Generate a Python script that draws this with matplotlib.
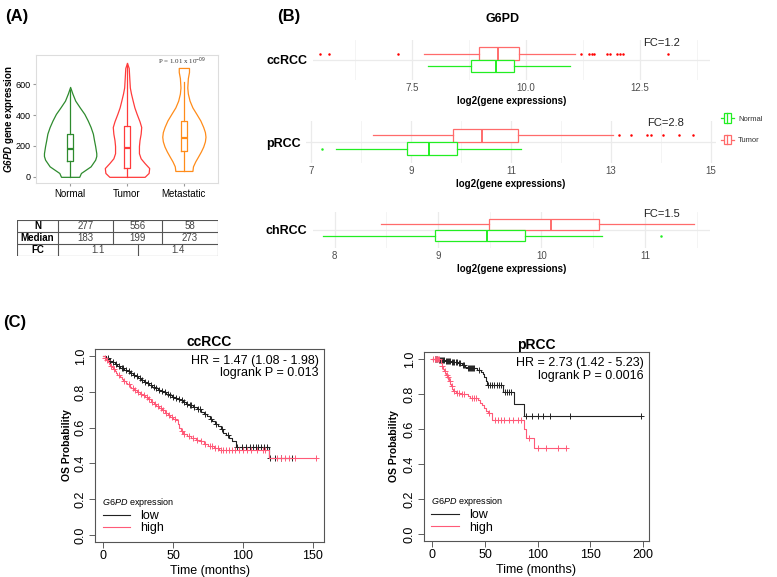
import numpy as np
import matplotlib
matplotlib.use('Agg')
import matplotlib.pyplot as plt
from matplotlib.legend_handler import HandlerBase
from matplotlib.patches import Rectangle, Patch
from matplotlib.lines import Line2D

plt.rcParams['font.family'] = ['Liberation Sans', 'DejaVu Sans']
plt.rcParams['mathtext.fontset'] = 'custom'
plt.rcParams['mathtext.rm'] = 'Liberation Sans'
plt.rcParams['mathtext.it'] = 'Liberation Sans:italic'
plt.rcParams['mathtext.bf'] = 'Liberation Sans:bold'
plt.rcParams['mathtext.bfit'] = 'Liberation Sans:italic:bold'

# ---------------- (A) violin data ----------------
groups = ['Normal', 'Tumor', 'Metastatic']
group_colors = ['#2E8B2E', '#FF3B3B', '#FF8C1A']

normal_prof_y = [0, 25, 68, 111, 135, 153, 200, 238, 280, 323, 365, 408, 450, 494, 540, 583]
normal_prof_w = [0.16, 0.19, 0.36, 0.44, 0.46, 0.46, 0.44, 0.42, 0.40, 0.36, 0.31, 0.25, 0.17, 0.09, 0.04, 0.0]
tumor_prof_y = [0, 25, 57, 89, 120, 153, 200, 238, 280, 323, 360, 408, 450, 494, 540, 579, 640, 706, 738]
tumor_prof_w = [0.31, 0.38, 0.39, 0.31, 0.24, 0.21, 0.21, 0.22, 0.24, 0.25, 0.22, 0.17, 0.13, 0.10, 0.07, 0.05, 0.04, 0.03, 0.0]
meta_prof_y = [38, 68, 100, 132, 165, 196, 230, 260, 290, 323, 365, 408, 450, 494, 540, 579, 640, 680, 706]
meta_prof_w = [0.15, 0.16, 0.20, 0.25, 0.30, 0.34, 0.37, 0.38, 0.37, 0.34, 0.29, 0.22, 0.15, 0.10, 0.07, 0.06, 0.07, 0.09, 0.09]

# box stats: whislo, q1, med, q3, whishi
normal_box = [0, 100, 183, 280, 560]
tumor_box = [0, 60, 190, 330, 735]
meta_box = [40, 165, 255, 360, 615]

tab_n = [277, 556, 58]
tab_median = [183, 199, 273]
tab_fc = [1.1, 1.4]

# ---------------- (B) boxplot data ----------------
# [whislo, q1, med, q3, whishi], fliers
cc_tumor = [7.75, 8.96, 9.38, 9.84, 11.08]
cc_tumor_out = [5.48, 5.68, 7.19, 11.2, 11.39, 11.45, 11.5, 11.78, 11.85, 12.0, 12.07, 12.12, 13.11]
cc_normal = [7.84, 8.78, 9.33, 9.73, 10.97]
cc_normal_out = []
p_tumor = [8.24, 9.83, 10.41, 11.14, 13.04]
p_tumor_out = [13.15, 13.39, 13.72, 13.8, 14.04, 14.35, 14.64]
p_normal = [7.5, 8.92, 9.37, 9.92, 11.2]
p_normal_out = [7.22]
ch_tumor = [8.45, 9.49, 10.09, 10.56, 11.48]
ch_tumor_out = []
ch_normal = [7.89, 8.97, 9.47, 9.84, 10.59]
ch_normal_out = [11.16]

# ---------------- (C) Kaplan-Meier data ----------------
cc_low_t = [2, 4, 6, 8, 10, 12, 15, 17, 19, 21, 23, 25, 27, 29, 31, 33, 35, 37, 39, 41, 43, 45, 47, 49,
            51, 53, 55, 57, 59, 61, 64, 67, 70, 72, 74, 76, 78, 80, 82, 84, 86, 88, 90, 92, 95, 118.5]
cc_low_s = [0.99, 0.975, 0.965, 0.955, 0.945, 0.935, 0.925, 0.915, 0.905, 0.895, 0.887, 0.878, 0.866,
            0.857, 0.848, 0.838, 0.829, 0.820, 0.812, 0.803, 0.797, 0.789, 0.781, 0.773, 0.766, 0.760,
            0.752, 0.742, 0.733, 0.724, 0.714, 0.705, 0.690, 0.676, 0.663, 0.650, 0.638, 0.620, 0.607,
            0.590, 0.570, 0.556, 0.540, 0.524, 0.490, 0.429]
cc_low_cens = [3, 5, 7, 9, 11, 13, 14, 16, 18, 20, 22, 24, 26, 28, 30, 32, 34, 36, 38, 40, 42, 44, 46,
               48, 50, 52, 54, 56, 58, 60, 62, 63, 65, 68, 69, 73, 77, 81, 85, 89, 96, 99, 102, 105,
               107, 109, 111, 113, 115, 117, 119, 123, 127, 135]
cc_high_t = [1, 2, 3, 4, 5, 6, 7, 8, 9, 10, 12, 13, 14, 16, 17, 19, 20, 22, 24, 26, 28, 30, 32, 34, 36,
             38, 40, 42, 44, 46, 48, 50, 52, 53.5, 54.5, 55.5, 57, 60, 63, 66, 69, 72, 75, 79, 83, 118.5]
cc_high_s = [0.99, 0.98, 0.968, 0.957, 0.947, 0.937, 0.926, 0.915, 0.905, 0.895, 0.885, 0.874, 0.862,
             0.852, 0.842, 0.830, 0.820, 0.808, 0.798, 0.790, 0.781, 0.770, 0.758, 0.746, 0.733, 0.722,
             0.711, 0.697, 0.684, 0.670, 0.660, 0.650, 0.640, 0.620, 0.600, 0.580, 0.562, 0.553, 0.543,
             0.533, 0.524, 0.510, 0.498, 0.487, 0.476, 0.429]
cc_high_cens = [1.5, 2.5, 5.5, 7.5, 11, 15, 18, 21, 23, 25, 27, 29, 31, 33, 35, 37, 39, 41, 43, 45, 47,
                49, 51, 56, 58, 61, 64, 67, 70, 73, 76, 78, 80, 82, 84, 86, 88, 90, 92, 94, 97, 100,
                103, 106, 110, 114, 116, 124, 127, 130, 133, 137, 152]
p_low_t = [5, 12, 18, 24, 28, 31, 33, 42, 46, 48, 49.5, 50.5, 52, 67, 78, 87]
p_low_s = [0.996, 0.990, 0.983, 0.975, 0.967, 0.957, 0.948, 0.938, 0.928, 0.913, 0.895, 0.875, 0.852,
           0.813, 0.742, 0.672]
p_low_cens = [2, 3, 4, 6, 7, 8, 9, 10, 11, 13, 14, 15, 16, 17, 19, 20, 21, 22, 23, 25, 26, 29, 30, 34,
              35, 36, 37, 38, 39, 40, 44, 53, 55, 57, 59, 61, 63, 65, 69, 71, 73, 75, 89, 95, 100,
              105, 112, 131, 198]
p_high_t = [8, 9, 10, 11, 12, 13, 14, 15, 16, 17, 18, 19, 20, 22, 26, 34, 36, 43, 45, 47, 49, 51, 53,
            57, 87.5, 89, 97]
p_high_s = [0.975, 0.96, 0.945, 0.93, 0.92, 0.91, 0.90, 0.89, 0.875, 0.86, 0.845, 0.83, 0.815, 0.807,
            0.80, 0.788, 0.775, 0.765, 0.75, 0.735, 0.72, 0.705, 0.69, 0.653, 0.601, 0.549, 0.489]
p_high_cens = [1, 2, 3, 4, 5, 6, 9.5, 11.5, 13.5, 14.5, 16.5, 18.5, 21, 23, 25, 28, 30, 38, 40, 41, 54,
               60, 62, 65, 68, 73, 77, 81, 84, 92, 100, 108, 119, 127]

W, H = 777, 577
fig = plt.figure(figsize=(W / 100, H / 100), dpi=100)


def add_ax(x0, y0, x1, y1):
    # pixel box -> figure fraction
    return fig.add_axes([x0 / W, 1 - y1 / H, (x1 - x0) / W, (y1 - y0) / H])


def stats(b, fl=()):
    return dict(whislo=b[0], q1=b[1], med=b[2], q3=b[3], whishi=b[4], fliers=list(fl))


fig.text(5 / W, 1 - 17 / H, '(A)', fontsize=12, fontweight='bold', va='center')
fig.text(277 / W, 1 - 17 / H, '(B)', fontsize=12, fontweight='bold', va='center')
fig.text(3 / W, 1 - 323 / H, '(C)', fontsize=12, fontweight='bold', va='center')

# ====================== (A) violins ======================
ax = add_ax(36, 55, 218, 183)
profiles = [(normal_prof_y, normal_prof_w, normal_box),
            (tumor_prof_y, tumor_prof_w, tumor_box),
            (meta_prof_y, meta_prof_w, meta_box)]
for i, (vy, vw, bx) in enumerate(profiles):
    pos = i + 1
    col = group_colors[i]
    vw = np.array(vw)
    ax.fill_betweenx(vy, pos - vw, pos + vw, facecolor='white', edgecolor=col, lw=0.9)
    ax.bxp([stats(bx)], positions=[pos], widths=0.1, showfliers=False, showcaps=False,
           manage_ticks=False,
           boxprops=dict(color=col, lw=0.9), whiskerprops=dict(color=col, lw=0.9),
           medianprops=dict(color=col, lw=1.6))
ax.set_xlim(0.4, 3.6)
ax.set_ylim(-40, 790)
ax.set_xticks([1, 2, 3])
ax.set_xticklabels(groups, fontsize=7)
ax.set_yticks([0, 200, 400, 600])
ax.tick_params(axis='y', labelsize=6.5)
ax.tick_params(length=2, color='#999999', pad=2)
for s in ax.spines.values():
    s.set_color('#DDDDDD')
ax.set_ylabel(r'$\mathbfit{G6PD}$ gene expression', fontsize=7, fontweight='bold')
ax.yaxis.set_label_coords(-0.11, 0.5)
ax.text(0.80, 0.95, r'P = 1.01 x 10$^{-09}$', transform=ax.transAxes, fontsize=5,
        family='Liberation Serif', ha='center', va='center', color='#333333')

# table
at = add_ax(17, 220, 218, 256)
at.set_xlim(17, 218)
at.set_ylim(256, 220)
at.axis('off')
lc = dict(color='#555555', lw=0.8)
for yy in [220, 232, 244, 256]:
    at.plot([17, 218], [yy, yy], **lc)
for xx in [17, 58, 218]:
    at.plot([xx, xx], [220, 256], **lc)
for xx in [113, 162]:
    at.plot([xx, xx], [220, 244], **lc)
at.plot([138, 138], [244, 256], **lc)
cols3 = [(58 + 113) / 2, (113 + 162) / 2, (162 + 218) / 2]
for lab, yy in zip(['N', 'Median', 'FC'], [226, 238, 250]):
    at.text(37.5, yy, lab, ha='center', va='center', fontsize=7, fontweight='bold')
for xx, n, m in zip(cols3, tab_n, tab_median):
    at.text(xx, 226, str(n), ha='center', va='center', fontsize=7, color='#444444')
    at.text(xx, 238, str(m), ha='center', va='center', fontsize=7, color='#444444')
for xx, f in zip([(58 + 138) / 2, (138 + 218) / 2], tab_fc):
    at.text(xx, 250, f'{f:.1f}', ha='center', va='center', fontsize=7, color='#444444')

# ====================== (B) horizontal boxplots ======================
TUMOR_C = '#FF6B6B'
NORMAL_C = '#22EE22'
fig.text(503 / W, 1 - 19 / H, 'G6PD', fontsize=9, fontweight='bold', ha='center', va='center')


def box_panel(px, xlim, major, minor, label, tumor, tumor_out, normal, normal_out, fc, fc_y):
    a = add_ax(*px)
    a.set_axisbelow(True)
    for st, out, pos, col in [(tumor, tumor_out, 1.1875, TUMOR_C), (normal, normal_out, 0.8125, NORMAL_C)]:
        fcol = 'red' if col == TUMOR_C else NORMAL_C
        a.bxp([stats(st, out)], positions=[pos], widths=0.375, orientation='horizontal',
              showcaps=False, patch_artist=True, manage_ticks=False,
              boxprops=dict(facecolor='white', edgecolor=col, lw=0.9),
              whiskerprops=dict(color=col, lw=0.9),
              medianprops=dict(color=col, lw=1.4),
              flierprops=dict(marker='o', markersize=1.8, markerfacecolor=fcol,
                              markeredgecolor='none'))
    a.set_xlim(xlim)
    a.set_ylim(0.4, 1.6)
    a.set_xticks(major)
    a.set_xticks(minor, minor=True)
    a.grid(which='major', color='#EBEBEB', lw=0.9)
    a.grid(which='minor', axis='x', color='#F3F3F3', lw=0.6)
    a.set_yticks([1])
    a.set_yticklabels([label], fontsize=9, fontweight='bold')
    a.tick_params(which='both', length=0)
    a.tick_params(axis='x', labelsize=7, labelcolor='#4D4D4D', pad=2)
    a.tick_params(axis='y', pad=4)
    for s in a.spines.values():
        s.set_visible(False)
    a.set_xlabel('log2(gene expressions)', fontsize=7, fontweight='bold', labelpad=2)
    a.text(0.877, fc_y, fc, transform=a.transAxes, fontsize=8, ha='center', va='center',
           color='#222222')
    return a


box_panel((313, 40, 710, 80), (5.32, 14.04), [7.5, 10, 12.5], [6.25, 8.75, 11.25, 13.75],
          'ccRCC', cc_tumor, cc_tumor_out, cc_normal, cc_normal_out, 'FC=1.2', 0.93)
box_panel((306, 121, 716, 163), (6.9, 15.1), [7, 9, 11, 13, 15], [8, 10, 12, 14],
          'pRCC', p_tumor, p_tumor_out, p_normal, p_normal_out, 'FC=2.8', 0.95)
box_panel((313, 212, 710, 248), (7.79, 11.63), [8, 9, 10, 11], [8.5, 9.5, 10.5, 11.5],
          'chRCC', ch_tumor, ch_tumor_out, ch_normal, ch_normal_out, 'FC=1.5', 0.94)


class BoxKey(HandlerBase):
    def create_artists(self, legend, orig, xd, yd, w, h, fs, trans):
        c = orig.get_edgecolor()
        x0, y0 = -xd, -yd
        r = Rectangle((x0 + 0.25 * w, y0), 0.5 * w, h, facecolor='white', edgecolor=c,
                      lw=0.9, transform=trans)
        l1 = Line2D([x0, x0 + 0.25 * w], [y0 + h / 2] * 2, color=c, lw=0.9, transform=trans)
        l2 = Line2D([x0 + 0.75 * w, x0 + w], [y0 + h / 2] * 2, color=c, lw=0.9, transform=trans)
        m = Line2D([x0 + w / 2] * 2, [y0, y0 + h], color=c, lw=0.9, transform=trans)
        return [l1, l2, r, m]


fig.legend(handles=[Patch(edgecolor=NORMAL_C), Patch(edgecolor=TUMOR_C)],
           labels=['Normal', 'Tumor'], handler_map={Patch: BoxKey()},
           loc='upper left', bbox_to_anchor=(716 / W, 1 - 108 / H), frameon=False,
           fontsize=5.5, handlelength=1.6, handleheight=1.6, labelspacing=1.5,
           handletextpad=0.6, borderpad=0.2, labelcolor='#333333')

# ====================== (C) Kaplan-Meier ======================
LOW_C = '#222222'
HIGH_C = '#FF5A78'


def km_panel(px, title, xlim, xticks, curves, hr, pval, ylab_x):
    a = add_ax(*px)
    for t, s, cens, col in curves:
        end = max(max(cens), max(t))
        tt = np.r_[0, t, end]
        ss = np.r_[1.0, s, s[-1]]
        a.step(tt, ss, where='post', color=col, lw=0.8)
        cy = ss[np.searchsorted(tt, cens, side='right') - 1]
        a.plot(cens, cy, '+', color=col, ms=4, mew=0.7, ls='none')
    a.set_xlim(xlim)
    a.set_ylim(-0.04, 1.04)
    a.set_xticks(xticks)
    yt = [0, 0.2, 0.4, 0.6, 0.8, 1.0]
    a.set_yticks(yt)
    a.set_yticklabels([f'{v:.1f}' for v in yt], rotation=90, va='center')
    a.tick_params(labelsize=9, length=4, width=0.6, color='#444444', pad=2)
    for s in a.spines.values():
        s.set_color('#555555')
        s.set_linewidth(0.8)
    a.set_title(title, fontsize=10, fontweight='bold', pad=2)
    a.set_xlabel('Time (months)', fontsize=9, labelpad=2)
    a.set_ylabel('OS Probability', fontsize=7.5, fontweight='bold')
    a.yaxis.set_label_coords(ylab_x, 0.5)
    a.text(0.978, 0.94, hr, transform=a.transAxes, ha='right', va='center', fontsize=9)
    a.text(0.978, 0.875, pval, transform=a.transAxes, ha='right', va='center', fontsize=9)
    a.legend(handles=[Line2D([], [], color=LOW_C, lw=0.8), Line2D([], [], color=HIGH_C, lw=0.8)],
             labels=['low', 'high'], title=r'$\it{G6PD}$ expression', title_fontsize=6.5,
             alignment='left', loc='lower left', frameon=False, fontsize=9,
             handlelength=2.2, handletextpad=0.8, labelspacing=0.05, borderaxespad=0.2)
    return a


km_panel((95, 349, 324, 542), 'ccRCC', (-6, 158), [0, 50, 100, 150],
         [(cc_low_t, cc_low_s, cc_low_cens, LOW_C), (cc_high_t, cc_high_s, cc_high_cens, HIGH_C)],
         'HR = 1.47 (1.08 - 1.98)', 'logrank P = 0.013', -0.1)
km_panel((424, 352, 649, 541), 'pRCC', (-8, 206), [0, 50, 100, 150, 200],
         [(p_low_t, p_low_s, p_low_cens, LOW_C), (p_high_t, p_high_s, p_high_cens, HIGH_C)],
         'HR = 2.73 (1.42 - 5.23)', 'logrank P = 0.0016', -0.11)

fig.savefig('out.png', dpi=100)
